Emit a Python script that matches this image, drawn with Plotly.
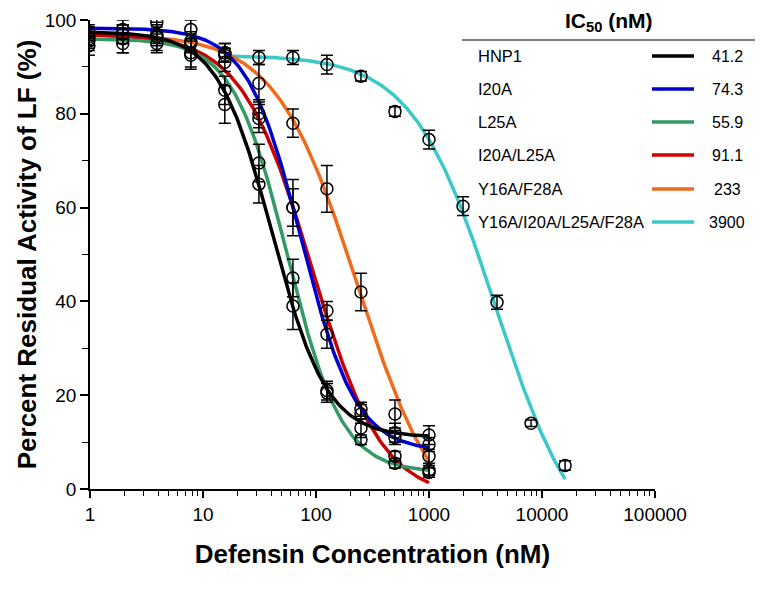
import numpy as np
import plotly.graph_objects as go

# ---------------- data ----------------
series_names = ["HNP1", "I20A", "L25A", "I20A/L25A", "Y16A/F28A", "Y16A/I20A/L25A/F28A"]
ic50_labels = ["41.2", "74.3", "55.9", "91.1", "233", "3900"]
colors = ["#000000", "#0000CC", "#339966", "#CC0000", "#F26B1D", "#3CC8C8"]

conc = [0.977, 1.95, 3.9, 7.8, 15.6, 31.25, 62.5, 125, 250, 500, 1000]
conc_quad = [15.6, 31.25, 62.5, 125, 250, 500, 1000, 2000, 4000, 8000, 16000]

hnp1 = [95.5, 96, 96.5, 93, 82, 65, 39, 20.5, 13, 12, 11.5]
hnp1_err = [2, 3, 3, 3, 4, 4, 5, 2, 2, 2, 2]
i20a = [97.5, 98, 99.5, 98, 93, 80, 60, 33, 17, 11, 9.5]
i20a_err = [1.5, 2, 2, 2, 2, 3, 6, 3, 1.5, 1.5, 1.5]
l25a = [94.5, 95, 95, 92.5, 85, 69.5, 45, 21, 10.5, 5.5, 4]
l25a_err = [2, 2, 2, 3, 3, 4, 4, 2, 1, 1, 1]
i20a_l25a = [96, 97, 96.5, 95, 91, 79, 60, 38, 16, 7, 3.5]
i20a_l25a_err = [2, 2, 2, 2, 2, 3, 4, 2, 2, 1, 1]
y16a_f28a = [96.5, 97, 97, 95.5, 93, 86.5, 78, 64, 42, 16, 7]
y16a_f28a_err = [2, 2, 2, 2, 2, 4, 3, 5, 4, 3, 1.5]
quad = [92.5, 92, 92, 90.5, 88, 80.5, 74.5, 60.3, 39.8, 14, 5]
quad_err = [1.5, 1.5, 1.5, 2, 1, 1, 2, 2, 1.5, 0.7, 1]

# fitted dose-response curve parameters
fit_top = [97.5, 98.3, 96, 97, 97, 92.5]
fit_bottom = [11, 8, 3.5, -2, -10, -15]
fit_ic50 = [41.2, 74.3, 55.9, 91.1, 233, 3900]
fit_hill = [1.8, 1.8, 1.8, 1.4, 1.2, 1.18]
fit_start = [0.977, 0.977, 0.977, 0.977, 0.977, 15.6]
fit_end = [1000, 1000, 1000, 1000, 1000, 16000]

x_ticks = [1, 10, 100, 1000, 10000, 100000]
x_ticktext = ["1", "10", "100", "1000", "10000", "100000"]

# ---------------- figure ----------------
values = [hnp1, i20a, l25a, i20a_l25a, y16a_f28a, quad]
errors = [hnp1_err, i20a_err, l25a_err, i20a_l25a_err, y16a_f28a_err, quad_err]
xs = [conc, conc, conc, conc, conc, conc_quad]

FONT = "Liberation Sans, Arial, sans-serif"
fig = go.Figure()

draw_order = [5, 4, 3, 2, 1, 0]
for i in draw_order:
    xc = np.logspace(np.log10(fit_start[i]), np.log10(fit_end[i]), 200)
    yc = fit_bottom[i] + (fit_top[i] - fit_bottom[i]) / (1 + (xc / fit_ic50[i]) ** fit_hill[i])
    fig.add_trace(go.Scatter(x=xc, y=yc, mode="lines",
                             line=dict(color=colors[i], width=3.5),
                             showlegend=False, hoverinfo="skip"))

for i in draw_order:
    fig.add_trace(go.Scatter(x=xs[i], y=values[i], mode="markers",
                             marker=dict(symbol="circle-open", size=12,
                                         color="black", line=dict(width=1.5, color="black")),
                             error_y=dict(type="data", array=errors[i], visible=True,
                                          color="black", thickness=1.5, width=6),
                             name=series_names[i], showlegend=False))

# page body has an 8px margin -> figure drawn at (8,8); work in window pixels
OFF = 8
FW, FH = 770 - OFF, 590 - OFF
L, R, T, B = 90, 655, 20, 489
W, H = R - L, B - T


def px(x):
    return (x - L) / W


def py(y):
    return (B - y) / H


fig.update_layout(
    width=FW, height=FH,
    margin=dict(l=L - OFF, r=770 - R, t=T - OFF, b=590 - B),
    paper_bgcolor="white", plot_bgcolor="white",
    font=dict(family=FONT, color="black", size=18),
    xaxis=dict(type="log", range=[0, 5], tickvals=x_ticks, ticktext=x_ticktext,
               automargin=False,
               showgrid=False, zeroline=False, showline=True, linecolor="black",
               linewidth=1.5, ticks="outside", ticklen=7, tickwidth=1.5,
               tickcolor="black", tickfont=dict(size=19),
               minor=dict(ticks="outside", ticklen=5, tickwidth=1.2,
                          tickcolor="black", dtick="D1", showgrid=False),
               title=dict(text="<b>Defensin Concentration (nM)</b>",
                          font=dict(size=26), standoff=21)),
    yaxis=dict(range=[0, 100], dtick=20, showgrid=False, zeroline=False,
               automargin=False,
               showline=True, linecolor="black", linewidth=1.5,
               ticks="outside", ticklen=8, tickwidth=1.5, tickcolor="black",
               tickfont=dict(size=19),
               minor=dict(ticks="outside", ticklen=6, tickwidth=1.2,
                          tickcolor="black", dtick=10, showgrid=False),
               title=dict(text="<b>Percent Residual Activity of LF (%)</b>",
                          font=dict(size=26), standoff=1)),
)

# custom IC50 table
fig.add_annotation(x=px(609), y=py(22), xref="paper", yref="paper",
                   text="<b>IC<sub>50</sub> (nM)</b>", showarrow=False,
                   font=dict(size=21), xanchor="center", yanchor="middle")
fig.add_shape(type="line", xref="paper", yref="paper",
              x0=px(462), x1=px(755), y0=py(40), y1=py(40),
              line=dict(color="black", width=1.2))
row_y = [56, 89, 122, 155, 189, 222]
for i, name in enumerate(series_names):
    fig.add_annotation(x=px(476), y=py(row_y[i]), xref="paper", yref="paper",
                       text=name, showarrow=False, font=dict(size=16.5),
                       xanchor="left", yanchor="middle")
    fig.add_shape(type="line", xref="paper", yref="paper",
                  x0=px(652), x1=px(694), y0=py(row_y[i]), y1=py(row_y[i]),
                  line=dict(color=colors[i], width=3.5))
    fig.add_annotation(x=px(727), y=py(row_y[i]), xref="paper", yref="paper",
                       text=ic50_labels[i], showarrow=False, font=dict(size=16),
                       xanchor="center", yanchor="middle")

fig.write_html("out.html")
